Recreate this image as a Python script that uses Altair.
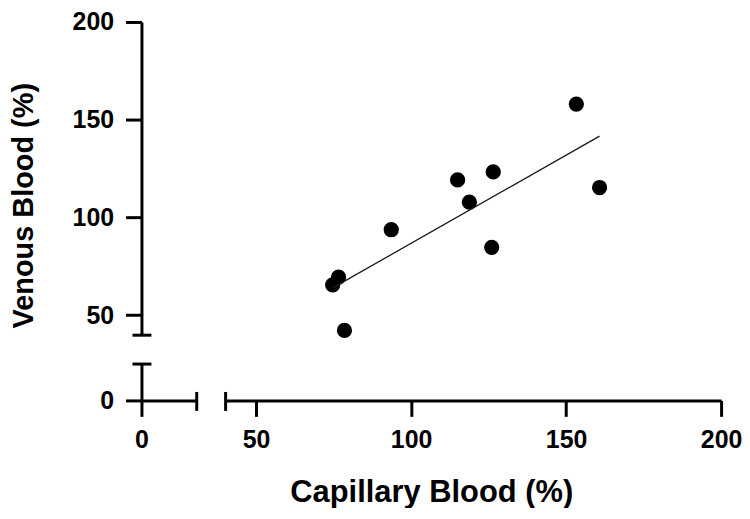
import altair as alt
import pandas as pd

# ---- data ----
capillary = [153.3, 160.8, 126.5, 115.0, 118.8, 93.6, 126.0, 76.6, 74.7, 78.5]
venous = [158.0, 115.3, 123.3, 119.2, 107.8, 93.7, 84.7, 69.5, 65.5, 42.2]

# upper (main) axis segments
x_main_domain = [40, 200]
y_main_domain = [40, 200]
x_main_ticks = [50, 100, 150, 200]
y_main_ticks = [50, 100, 150, 200]
main_break_end = [40]

# lower (short) axis segments before the break
x_low_domain = [0, 20]
y_low_domain = [0, 20]
low_ticks = [0]
low_break_end = [20]

x_title = "Capillary Blood (%)"
y_title = "Venous Blood (%)"

FONT = "Liberation Sans"
W, H = 498, 314

df = pd.DataFrame({"x": capillary, "y": venous})
main_end_df = pd.DataFrame({"x": main_break_end, "y": main_break_end})
low_df = pd.DataFrame({"x": low_ticks, "y": low_ticks})
low_end_df = pd.DataFrame({"x": low_break_end, "y": low_break_end})

base_axis = dict(
    domainColor="black", domainWidth=3, tickColor="black", tickWidth=3,
    tickSize=16, labelFont=FONT, labelFontSize=25, labelFontWeight="bold",
    labelColor="black", labelFlush=False, labelOverlap=False, grid=False,
    titleFont=FONT, titleFontWeight="bold", titleColor="black",
)

def cap_axis(orient, offset, values):
    return alt.Axis(orient=orient, offset=offset, values=values, domain=False,
                    labels=False, tickSize=19, tickWidth=3, tickColor="black",
                    grid=False, title="")

x_main_scale = alt.Scale(domain=x_main_domain, nice=False, zero=False)
y_main_scale = alt.Scale(domain=y_main_domain, nice=False, zero=False)
x_low_scale = alt.Scale(domain=x_low_domain, range=[-84, -29], nice=False, zero=False)
y_low_scale = alt.Scale(domain=y_low_domain, range=[380, 343], nice=False, zero=False)

points = alt.Chart(df).mark_circle(size=235, color="black", opacity=1).encode(
    x=alt.X("x:Q", scale=x_main_scale,
            axis=alt.Axis(orient="bottom", offset=66, values=x_main_ticks,
                          labelPadding=11, title=x_title, titleX=207, titleY=101,
                          titleFontSize=31,
                          titleBaseline="alphabetic", titleAlign="center", **base_axis)),
    y=alt.Y("y:Q", scale=y_main_scale,
            axis=alt.Axis(orient="left", offset=84, values=y_main_ticks,
                          labelPadding=12, title=y_title, titleX=-103, titleY=184,
                          titleFontSize=29,
                          titleAngle=270, titleBaseline="bottom", titleAlign="center",
                          **base_axis)),
)

line = alt.Chart(df).transform_regression("x", "y").mark_line(
    color="#1a1a1a", strokeWidth=1.3
).encode(
    x=alt.X("x:Q", scale=x_main_scale, axis=None),
    y=alt.Y("y:Q", scale=y_main_scale, axis=None),
)

main_caps = alt.Chart(main_end_df).mark_point(opacity=0).encode(
    x=alt.X("x:Q", scale=x_main_scale, axis=cap_axis("bottom", 57, main_break_end)),
    y=alt.Y("y:Q", scale=y_main_scale, axis=cap_axis("left", 74.5, main_break_end)),
)

low_axes = alt.Chart(low_df).mark_point(opacity=0).encode(
    x=alt.X("x:Q", scale=x_low_scale,
            axis=alt.Axis(orient="bottom", offset=66, values=low_ticks,
                          labelPadding=11, title="", **base_axis)),
    y=alt.Y("y:Q", scale=y_low_scale,
            axis=alt.Axis(orient="left", offset=84, values=low_ticks,
                          labelPadding=12, title="", **base_axis)),
)

low_caps = alt.Chart(low_end_df).mark_point(opacity=0).encode(
    x=alt.X("x:Q", scale=x_low_scale, axis=cap_axis("bottom", 57, low_break_end)),
    y=alt.Y("y:Q", scale=y_low_scale, axis=cap_axis("left", 74.5, low_break_end)),
)

chart = alt.layer(points, line, main_caps, low_axes, low_caps).resolve_scale(
    x="independent", y="independent"
).resolve_axis(
    x="independent", y="independent"
).properties(
    width=W, height=H,
    padding={"left": 218, "top": 13, "right": 21, "bottom": 173},
    autosize=alt.AutoSizeParams(type="none"),
    background="white",
).configure_view(strokeWidth=0)

chart.save("out.html", embed_options={"renderer": "svg", "actions": False})
